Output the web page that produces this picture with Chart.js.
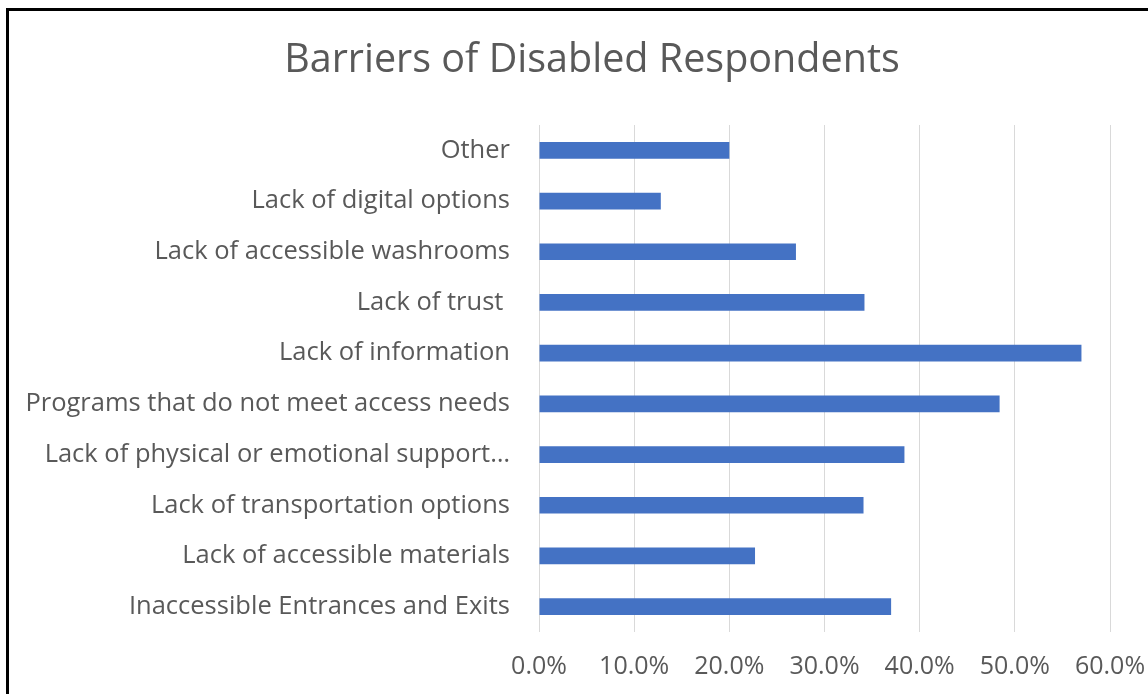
<!DOCTYPE html>
<html>
<head>
<meta charset="utf-8">
<script src="https://cdn.jsdelivr.net/npm/chart.js@4"></script>
<style>
    html, body { margin: 0; padding: 0; background: #fff; }
    body { width: 1148px; height: 694px; position: relative; overflow: hidden; }
    #frame { position: absolute; left: 6px; top: 8px; width: 1200px; height: 800px;
             border-left: 3px solid #000; border-top: 3px solid #000; }
    #wrap { position: absolute; left: 0; top: 0; width: 1148px; height: 694px; }
</style>
</head>
<body>
<div id="frame"></div>
<div id="wrap"><canvas id="barriersGraph"></canvas></div>
<script>
// categories, top to bottom
const categories = [
    "Other",
    "Lack of digital options",
    "Lack of accessible washrooms",
    "Lack of trust ",
    "Lack of information",
    "Programs that do not meet access needs",
    "Lack of physical or emotional support\u2026",
    "Lack of transportation options",
    "Lack of accessible materials",
    "Inaccessible Entrances and Exits"
];
// share of disabled respondents, percent
const shares = [20.0, 12.8, 27.0, 34.2, 57.0, 48.4, 38.4, 34.1, 22.7, 37.0];
const xTicks = [0, 10, 20, 30, 40, 50, 60];
const chartTitle = "Barriers of Disabled Respondents";

const textColor = "#595959";
const fontFamily = "'Open Sans', 'Noto Sans', sans-serif";

// title is centred over the whole chart frame, not over the canvas minus padding
const frameTitle = {
    id: "frameTitle",
    afterDraw(chart) {
        const ctx = chart.ctx;
        ctx.save();
        ctx.fillStyle = textColor;
        ctx.font = "39.5px " + fontFamily;
        ctx.textAlign = "center";
        ctx.textBaseline = "middle";
        ctx.fillText(chartTitle, 592, 61);
        ctx.restore();
    }
};

var config = {
    type: "bar",
    data: {
        labels: categories,
        datasets: [{
            data: shares,
            backgroundColor: "#4472C4",
            borderWidth: 0,
            categoryPercentage: 1,
            barPercentage: 0.33
        }]
    },
    plugins: [frameTitle],
    options: {
        indexAxis: "y",
        responsive: false,
        animation: false,
        layout: { padding: { left: 0, right: 38, top: 125, bottom: 0 } },
        plugins: {
            legend: { display: false },
            tooltip: { enabled: false },
            title: { display: false }
        },
        scales: {
            x: {
                min: 0,
                max: 60,
                afterBuildTicks: function (scale) {
                    scale.ticks = xTicks.map(v => ({ value: v }));
                },
                afterFit: function (scale) {
                    scale.height = 62;
                    scale.paddingLeft = 0;
                    scale.paddingRight = 0;
                },
                ticks: {
                    color: textColor,
                    font: { family: fontFamily, size: 25 },
                    padding: 20,
                    maxRotation: 0,
                    callback: function (value) { return value.toFixed(1) + "%"; }
                },
                grid: { color: "#d9d9d9", lineWidth: 1, drawTicks: false },
                border: { display: false }
            },
            y: {
                afterFit: function (scale) {
                    scale.width = 539;
                    scale.paddingTop = 0;
                    scale.paddingBottom = 0;
                },
                ticks: {
                    color: textColor,
                    font: { family: fontFamily, size: 25.5 },
                    padding: 29,
                    autoSkip: false
                },
                grid: { display: false, drawTicks: false },
                border: { display: false }
            }
        }
    }
};

const canvas = document.getElementById("barriersGraph");
canvas.width = 1148;
canvas.height = 694;
const barriersGraph = new Chart(canvas, config);
</script>
</body>
</html>
